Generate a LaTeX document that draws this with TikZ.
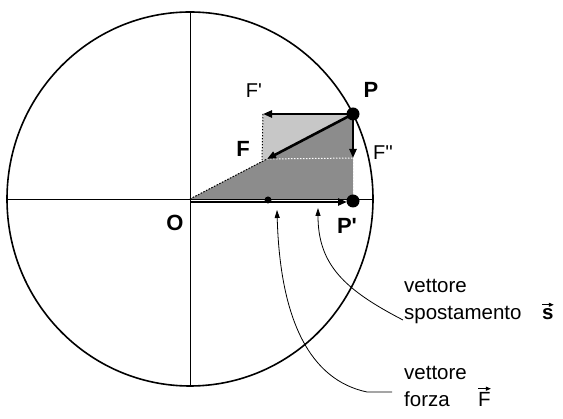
\documentclass[tikz,border=0pt]{standalone}
\usepackage{fontspec}
\setmainfont{Liberation Sans}[Ligatures=TeXOff]
\usepackage{tikz}
\usetikzlibrary{arrows.meta,calc}

\begin{document}
\begin{tikzpicture}[x=1pt,y=-1pt,
		vec/.style={line width=2.6pt,-{Triangle[length=9pt,width=7pt]}},
		edge/.style={dash pattern=on 1.5pt off 1.5pt,line width=1pt},
		bigl/.style={font=\fontsize{22}{26}\selectfont\bfseries,inner sep=0pt},
		smll/.style={font=\fontsize{20}{24}\selectfont,inner sep=0pt},
		txt/.style={font=\fontsize{20.5}{24}\selectfont,inner sep=0pt,anchor=base west},
		note/.style={line width=0.8pt,-{Triangle[length=8pt,width=5pt]}}]
			      \useasboundingbox (0,0) rectangle (563,419);
			      % Coordinates
			      \coordinate (O) at (190,199);
			      \coordinate (P) at (353,114);
			      \coordinate (Q) at (353,201);
			      \coordinate (F) at (267,159);
			      \coordinate (G) at (263,114);
			      \coordinate (H) at (353,158);
			      \coordinate (K) at (262,160);
			      \coordinate (A) at (191,202);
			      \coordinate (M) at (268,200);
			      \coordinate (S) at (318,208);
			      \coordinate (T) at (277,210);
			      \coordinate (N) at (392,392);
			      % Shaded parts
			      \fill[black!22] (262,114) -- (P) -- (F) -- (K) -- cycle;
			      \fill[black!45] (O) -- (P) -- (H) -- (Q |- O) -- cycle;
			      % Circle & axes
			      \draw[line width=1.6pt] (O) ellipse [x radius=183pt, y radius=187pt];
			      \draw[line width=0.8pt] (O) ++(-183,0) -- ++(366,0);
			      \draw[line width=0.8pt] (O) ++(0,-187) -- ++(0,374);
			      % Edges
			      \draw[edge,white] (F) -- (H);
			      \draw[edge,white] (H) -- (Q |- O);
			      \draw[edge] (O) -- (F);
			      \draw[white,line width=1pt] (G) -- (K);
			      \draw[edge] (G) -- (K);
			      % Vectors
			      \draw[vec] (P) -- (F);
			      \draw[vec] (P) -- (G);
			      \draw[vec] (P) -- (H);
			      \draw[vec,shorten >=6pt] (A) -- (A -| Q);
			      \fill (M) circle (3.5pt);
			      \foreach \p in {P,Q} {
					      \fill[black] (\p) circle (6.5pt);
				      }
			      % Labels
			      \node[bigl] (lP) at (371,90) {P};
			      \node[bigl] (lF) at (243,149) {F};
			      \node[bigl] (lO) at (175,223) {O};
			      \node[bigl] (lQ) at (347,226) {P'};
			      \node[smll] (lG) at (254,91) {F'};
			      \node[smll] (lH) at (383,153) {F''};
			      \node[txt] (v1) at (404,293) {vettore};
			      \node[txt] (sp) at (404,320) {spostamento};
			      \node[txt] (v2) at (404,380) {vettore};
			      \node[txt] (fo) at (404,407) {forza};
			      \node[txt,font=\fontsize{20.5}{24}\selectfont\bfseries] (sv) at (542,320) {s};
			      \node[txt] (fv) at (478,407) {F};
			      \draw[-{Triangle[length=5pt,width=4pt]},line width=1pt] ([yshift=4pt]sv.north west) -- ([yshift=4pt]sv.north east);
			      \draw[-{Triangle[length=5pt,width=4pt]},line width=1pt] ([yshift=4pt]fv.north west) -- ([yshift=4pt]fv.north east);
			      % Notes
			      \draw[note] ([xshift=-1pt]sp.base west) .. controls (345,290) and (318,265) .. (S);
			      \draw[note] (N) -- (367,392) .. controls (310,380) and (280,320) .. (T);
		      \end{tikzpicture}
\end{document}
